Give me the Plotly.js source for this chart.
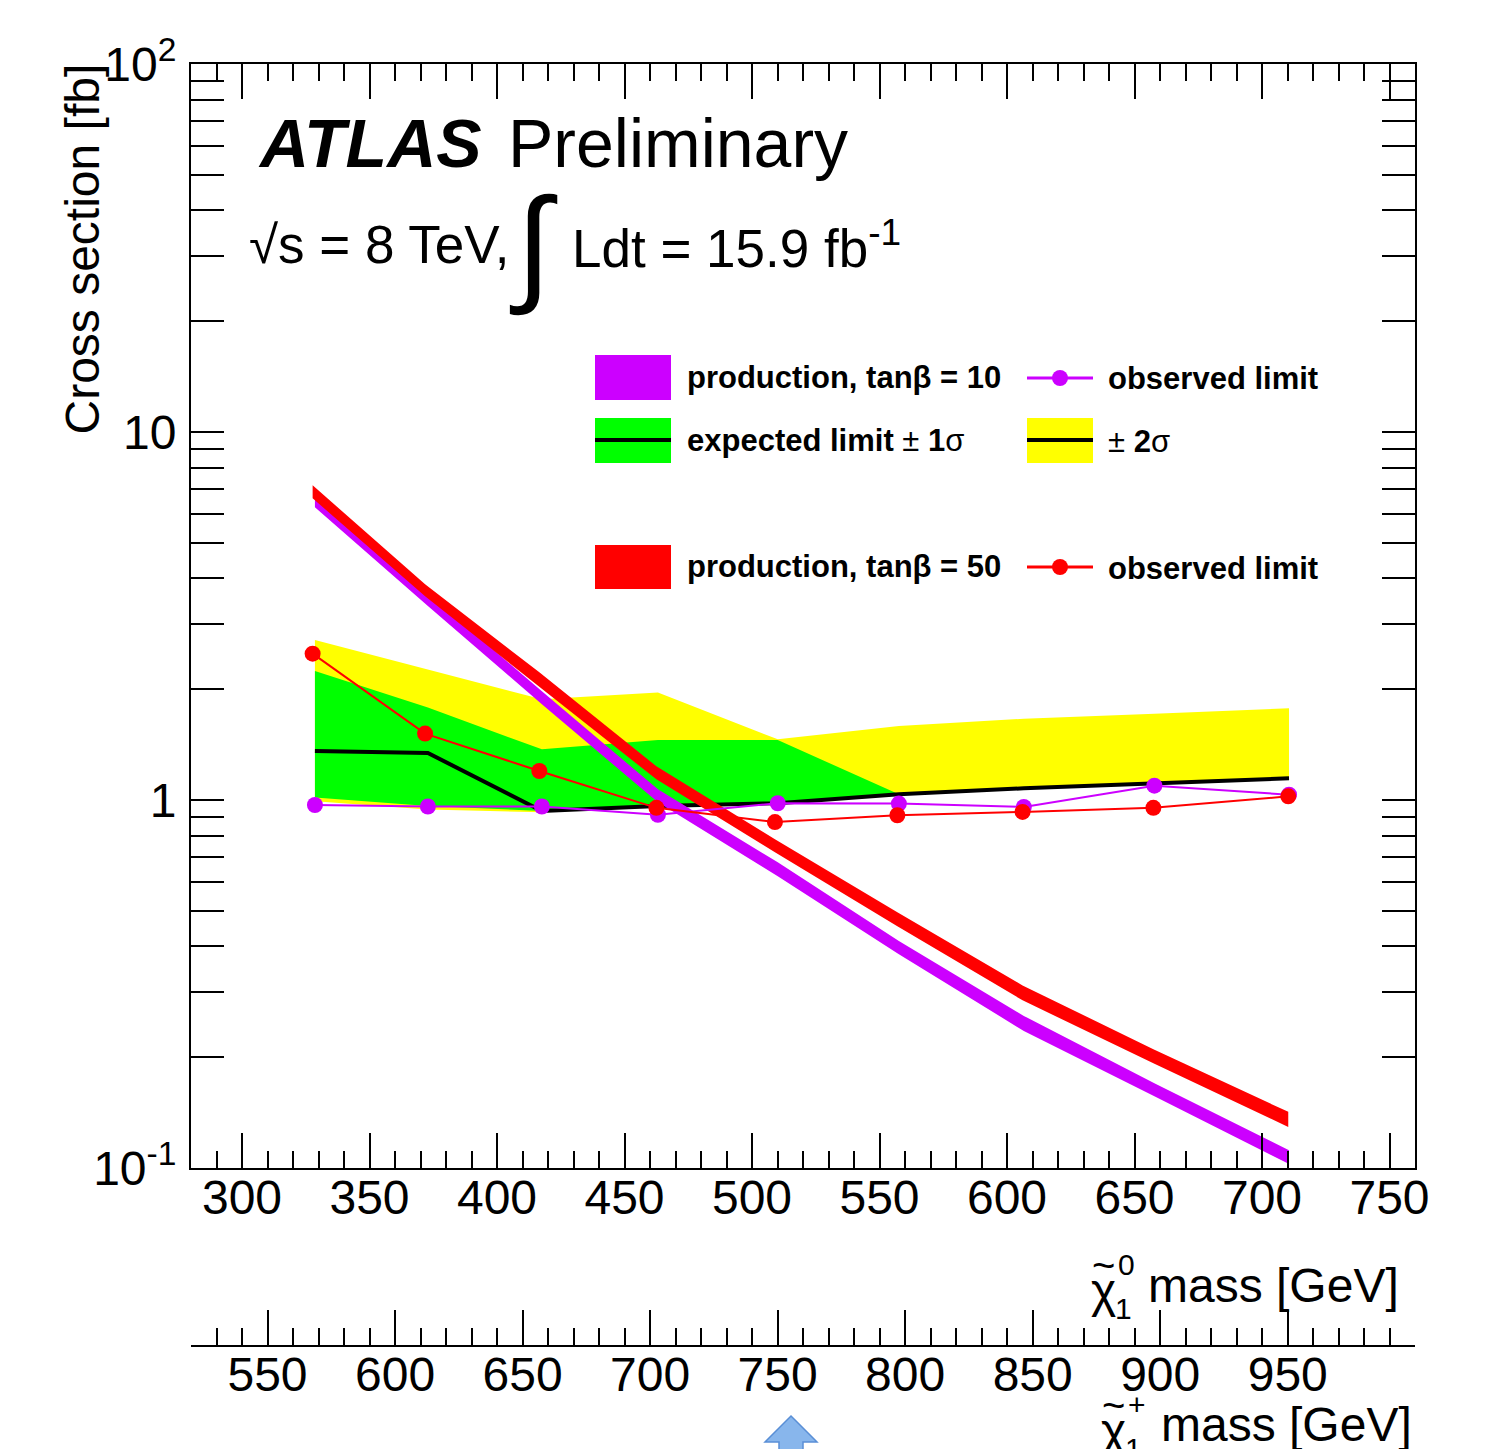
<!DOCTYPE html>
<html><head><meta charset="utf-8">
<script src="https://cdn.plot.ly/plotly-3.0.1.min.js"></script>
<style>body{margin:0;background:#fff}#chart{width:1487px;height:1449px}</style>
</head><body><div id="chart"></div>
<script>
// neutralino masses [GeV] of the signal points
const mass10 = [328.6, 372.9, 417.6, 463.1, 510.1, 557.6, 606.6, 657.8, 710.6];
const mass50 = [327.7, 371.8, 416.6, 462.5, 509.0, 557.0, 606.1, 657.4, 710.3];
// theory cross-section bands [fb]
const xsec10Up   = [6.77, 3.645, 1.974, 1.069, 0.677, 0.4137, 0.259, 0.1699, 0.1117];
const xsec10Down = [6.244, 3.367, 1.820, 0.9857, 0.6204, 0.3808, 0.2357, 0.1566, 0.1025];
const xsec50Up   = [7.165, 3.856, 2.223, 1.235, 0.782, 0.4953, 0.3135, 0.2102, 0.1421];
const xsec50Down = [6.604, 3.577, 2.037, 1.138, 0.7208, 0.4536, 0.2856, 0.1925, 0.1293];
// limits [fb]
const observed10 = [0.969, 0.960, 0.960, 0.912, 0.980, 0.978, 0.957, 1.094, 1.034];
const observed50 = [2.498, 1.515, 1.199, 0.952, 0.871, 0.909, 0.928, 0.952, 1.023];
const expected   = [1.359, 1.342, 0.934, 0.963, 0.980, 1.036, 1.076, 1.107, 1.145];
const exp1sUp    = [2.242, 1.783, 1.373, 1.456, 1.456, 1.036, 1.076, 1.107, 1.145];
const exp1sDown  = [1.015, 0.963, 0.934, 0.963, 0.980, 1.036, 1.076, 1.107, 1.145];
const exp2sUp    = [2.721, 2.266, 1.878, 1.958, 1.462, 1.589, 1.663, 1.715, 1.775];
const exp2sDown  = [0.992, 0.943, 0.926, 0.955, 0.973, 1.036, 1.076, 1.107, 1.145];
// axis ticks
const yTickVals = [0.1, 1, 10, 100];
const yTickText = ['10<sup>-1</sup>', '1', '10', '10<sup>2</sup>'];
const yMinorVals = [0.2,0.3,0.4,0.5,0.6,0.7,0.8,0.9,2,3,4,5,6,7,8,9,20,30,40,50,60,70,80,90];

const PURPLE = '#cc00ff', GREEN = '#00ff00', YELLOW = '#ffff00', RED = '#ff0000';
const FONT = 'Liberation Sans, Arial, Helvetica, sans-serif';

function band(x, up, down, color) {
  return {x: x.concat(x.slice().reverse()), y: up.concat(down.slice().reverse()),
    type: 'scatter', mode: 'lines', fill: 'toself', fillcolor: color,
    line: {width: 0, color: color}, hoverinfo: 'skip', showlegend: false, xaxis: 'x', yaxis: 'y'};
}

const data = [
  band(mass10, exp2sUp, exp2sDown, YELLOW),
  band(mass10, exp1sUp, exp1sDown, GREEN),
  {x: mass10, y: expected, type: 'scatter', mode: 'lines', line: {color: '#000', width: 4}, showlegend: false},
  band(mass10, xsec10Up, xsec10Down, PURPLE),
  band(mass50, xsec50Up, xsec50Down, RED),
  {x: mass10, y: observed10, type: 'scatter', mode: 'lines+markers',
   line: {color: PURPLE, width: 2}, marker: {color: PURPLE, size: 16}, showlegend: false},
  {x: mass50, y: observed50, type: 'scatter', mode: 'lines+markers',
   line: {color: RED, width: 2}, marker: {color: RED, size: 16}, showlegend: false},
  {x: [], y: [], type: 'scatter', xaxis: 'x2', yaxis: 'y', showlegend: false}
];

// pixel -> paper helpers for decorations
const L = 191, T = 64, W = 1224, H = 1282;
const px = v => (v - L) / W;
const py = v => (T + H - v) / H;

const annots = [];
function txt(text, x, y, size, opts) {
  annots.push(Object.assign({text: text, x: px(x), y: py(y), xref: 'paper', yref: 'paper',
    showarrow: false, xanchor: 'left', yanchor: 'middle',
    font: {family: FONT, size: size, color: '#000'}}, opts || {}));
}
txt('<b><i>ATLAS</i></b>', 256, 143, 68);
txt('Preliminary', 506, 143, 68);
txt('√s = 8 TeV,', 247, 245, 53);
txt('∫', 533, 244, 128, {xanchor: 'center'});
txt('Ldt = 15.9 fb<sup>-1</sup>', 570, 245, 53);
txt('Cross section [fb]', 82, 62, 48, {textangle: -90, xanchor: 'center', yanchor: 'top'});
// x-axis title: neutralino
txt('χ', 1103, 1290, 48, {xanchor: 'center'});
txt('~', 1103, 1265, 40, {xanchor: 'center'});
txt('0', 1116, 1264, 30);
txt('1', 1113, 1308, 30);
txt('mass [GeV]', 1401, 1285, 48, {xanchor: 'right'});
// secondary x-axis title: chargino
txt('χ', 1113, 1430, 48, {xanchor: 'center'});
txt('~', 1113, 1405, 40, {xanchor: 'center'});
txt('+', 1126, 1404, 30);
txt('1', 1123, 1448, 30);
txt('mass [GeV]', 1414, 1424, 48, {xanchor: 'right'});
// legend text
txt('<b>production, tanβ = 10</b>', 685, 377, 31);
txt('<b>observed limit</b>', 1106, 378, 31);
txt('<b>expected limit</b> ± <b>1</b>σ', 685, 440, 31);
txt('± <b>2</b>σ', 1106, 441, 31);
txt('<b>production, tanβ = 50</b>', 685, 566, 31);
txt('<b>observed limit</b>', 1106, 568, 31);

const shapes = [];
function rect(x0, y0, x1, y1, color) {
  shapes.push({type: 'rect', xref: 'paper', yref: 'paper', x0: px(x0), x1: px(x1), y0: py(y1), y1: py(y0),
    fillcolor: color, line: {width: 0}});
}
function hline(x0, x1, y, color, w) {
  shapes.push({type: 'line', xref: 'paper', yref: 'paper', x0: px(x0), x1: px(x1), y0: py(y), y1: py(y),
    line: {color: color, width: w}});
}
function dot(cx, cy, r, color) {
  shapes.push({type: 'circle', xref: 'paper', yref: 'paper', x0: px(cx - r), x1: px(cx + r),
    y0: py(cy + r), y1: py(cy - r), fillcolor: color, line: {width: 0}});
}
rect(595, 355, 671, 400, PURPLE);
rect(595, 418, 671, 463, GREEN); hline(595, 671, 440, '#000', 4);
rect(1027, 418, 1093, 463, YELLOW); hline(1027, 1093, 440, '#000', 4);
rect(595, 545, 671, 589, RED);
hline(1027, 1093, 378, PURPLE, 3); dot(1060, 378, 8, PURPLE);
hline(1027, 1093, 567, RED, 3); dot(1060, 567, 8, RED);
// blue arrow decoration below the chart
const ap = [[791,1416],[817,1442],[803,1442],[803,1452],[779,1452],[779,1442],[765,1442]];
shapes.push({type: 'path', xref: 'paper', yref: 'paper',
  path: 'M' + ap.map(p => px(p[0]) + ',' + py(p[1])).join(' L') + ' Z',
  fillcolor: '#88b6ec', line: {color: '#5a8fd6', width: 1.5}});

const axisFont = {family: FONT, size: 48, color: '#000'};
const layout = {
  width: 1487, height: 1449,
  margin: {l: L, r: 1487 - L - W, t: T, b: 1449 - T - H, pad: 0},
  paper_bgcolor: '#fff', plot_bgcolor: '#fff',
  showlegend: false,
  xaxis: {range: [280, 760], tickmode: 'linear', tick0: 300, dtick: 50,
    ticks: 'inside', ticklen: 35, tickwidth: 2, tickcolor: '#000',
    minor: {tickmode: 'linear', tick0: 300, dtick: 10, ticks: 'inside', ticklen: 17, tickwidth: 2, tickcolor: '#000'},
    showline: true, linewidth: 2, linecolor: '#000', mirror: 'allticks',
    showgrid: false, zeroline: false, tickfont: axisFont, ticklabelstandoff: -14, anchor: 'y'},
  xaxis2: {range: [520, 999.9], overlaying: 'x', anchor: 'free', position: 0, side: 'bottom',
    tickmode: 'linear', tick0: 550, dtick: 50,
    ticks: 'inside', ticklen: 35, tickwidth: 2, tickcolor: '#000',
    minor: {tickmode: 'linear', tick0: 550, dtick: 10, ticks: 'inside', ticklen: 17, tickwidth: 2, tickcolor: '#000'},
    showline: true, linewidth: 2, linecolor: '#000',
    showgrid: false, zeroline: false, tickfont: axisFont, ticklabelstandoff: -14},
  yaxis: {type: 'log', range: [-1, 2], domain: [(T + H - 1168) / H, 1],
    tickmode: 'array', tickvals: yTickVals, ticktext: yTickText,
    ticks: 'inside', ticklen: 33, tickwidth: 2, tickcolor: '#000',
    minor: {tickmode: 'array', tickvals: yMinorVals, ticks: 'inside', ticklen: 17, tickwidth: 2, tickcolor: '#000'},
    showline: true, linewidth: 2, linecolor: '#000', mirror: 'allticks',
    showgrid: false, zeroline: false, tickfont: axisFont, ticklabelstandoff: 3},
  annotations: annots,
  shapes: shapes
};
Plotly.newPlot('chart', data, layout, {displayModeBar: false, staticPlot: true});
</script></body></html>
